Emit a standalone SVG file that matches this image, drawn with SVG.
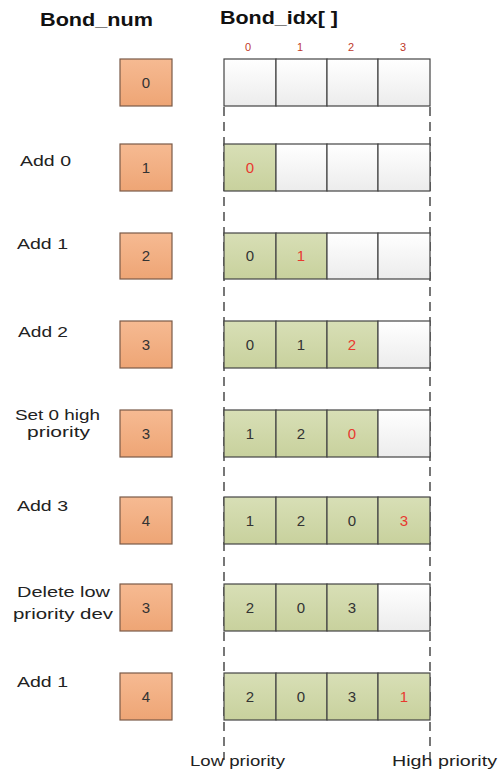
<svg xmlns="http://www.w3.org/2000/svg" width="501" height="769" viewBox="0 0 501 769">
<defs>
<linearGradient id="gEmpty" x1="0" y1="0" x2="0" y2="1"><stop offset="0" stop-color="#ffffff"/><stop offset="1" stop-color="#ececec"/></linearGradient>
<linearGradient id="gOrange" x1="0" y1="0" x2="0" y2="1"><stop offset="0" stop-color="#f6ba92"/><stop offset="1" stop-color="#eea575"/></linearGradient>
<linearGradient id="gGreen" x1="0" y1="0" x2="0" y2="1"><stop offset="0" stop-color="#d8dfb6"/><stop offset="1" stop-color="#c8d19d"/></linearGradient>
</defs>
<style>
text{font-family:"Liberation Sans",Arial,sans-serif;}
.title{font-size:18px;font-weight:bold;fill:#111;}
.idx{font-size:11px;fill:#c0392b;text-anchor:middle;}
.lbl{font-size:14px;fill:#222;}
.num{font-size:15px;fill:#333;text-anchor:middle;}
.red{font-size:15px;fill:#e8392f;text-anchor:middle;}
.box{fill:url(#gOrange);stroke:#7a5a48;stroke-width:1.2;}
.e{fill:url(#gEmpty);stroke:#444;stroke-width:1.2;}
.g{fill:url(#gGreen);stroke:#444;stroke-width:1.2;}
.dash{stroke:#555;stroke-width:1.6;stroke-dasharray:9 6;fill:none;}
.foot{font-size:14px;fill:#222;}
</style>
<rect width="501" height="769" fill="#ffffff"/>

<g id="headers">
<text class="title" x="40" y="26" textLength="113" lengthAdjust="spacingAndGlyphs">Bond_num</text>
<text class="title" x="220" y="24" textLength="118" lengthAdjust="spacingAndGlyphs">Bond_idx[ ]</text>
<text class="idx" x="248" y="51">0</text>
<text class="idx" x="300" y="51">1</text>
<text class="idx" x="351" y="51">2</text>
<text class="idx" x="403" y="51">3</text>
</g>

<g id="guides">
<line class="dash" x1="224" y1="107" x2="224" y2="760"/>
<line class="dash" x1="430" y1="107" x2="430" y2="760"/>
</g>

<g id="row0">
<rect class="box" x="120" y="59" width="52" height="47"/><text class="num" x="146" y="88">0</text>
<rect class="e" x="224" y="59" width="52" height="47"/><rect class="e" x="276" y="59" width="51" height="47"/><rect class="e" x="327" y="59" width="51" height="47"/><rect class="e" x="378" y="59" width="52" height="47"/>
</g>

<g id="row1">
<text class="lbl" x="20" y="166" textLength="51" lengthAdjust="spacingAndGlyphs">Add 0</text>
<rect class="box" x="120" y="144" width="52" height="47"/><text class="num" x="146" y="173">1</text>
<rect class="g" x="224" y="144" width="52" height="47"/><rect class="e" x="276" y="144" width="51" height="47"/><rect class="e" x="327" y="144" width="51" height="47"/><rect class="e" x="378" y="144" width="52" height="47"/>
<text class="red" x="250" y="173">0</text>
</g>

<g id="row2">
<text class="lbl" x="17" y="249" textLength="51" lengthAdjust="spacingAndGlyphs">Add 1</text>
<rect class="box" x="120" y="233" width="52" height="46"/><text class="num" x="146" y="261">2</text>
<rect class="g" x="224" y="233" width="52" height="46"/><rect class="g" x="276" y="233" width="51" height="46"/><rect class="e" x="327" y="233" width="51" height="46"/><rect class="e" x="378" y="233" width="52" height="46"/>
<text class="num" x="250" y="261">0</text><text class="red" x="301" y="261">1</text>
</g>

<g id="row3">
<text class="lbl" x="18" y="337" textLength="50" lengthAdjust="spacingAndGlyphs">Add 2</text>
<rect class="box" x="120" y="321" width="52" height="47"/><text class="num" x="146" y="350">3</text>
<rect class="g" x="224" y="321" width="52" height="47"/><rect class="g" x="276" y="321" width="51" height="47"/><rect class="g" x="327" y="321" width="51" height="47"/><rect class="e" x="378" y="321" width="52" height="47"/>
<text class="num" x="250" y="350">0</text><text class="num" x="301" y="350">1</text><text class="red" x="352" y="350">2</text>
</g>

<g id="row4">
<text class="lbl" x="15" y="420" textLength="85" lengthAdjust="spacingAndGlyphs">Set 0 high</text>
<text class="lbl" x="27" y="437" textLength="63" lengthAdjust="spacingAndGlyphs">priority</text>
<rect class="box" x="120" y="410" width="52" height="47"/><text class="num" x="146" y="439">3</text>
<rect class="g" x="224" y="410" width="52" height="47"/><rect class="g" x="276" y="410" width="51" height="47"/><rect class="g" x="327" y="410" width="51" height="47"/><rect class="e" x="378" y="410" width="52" height="47"/>
<text class="num" x="250" y="439">1</text><text class="num" x="301" y="439">2</text><text class="red" x="352" y="439">0</text>
</g>

<g id="row5">
<text class="lbl" x="17" y="511" textLength="51" lengthAdjust="spacingAndGlyphs">Add 3</text>
<rect class="box" x="120" y="497" width="52" height="47"/><text class="num" x="146" y="526">4</text>
<rect class="g" x="224" y="497" width="52" height="47"/><rect class="g" x="276" y="497" width="51" height="47"/><rect class="g" x="327" y="497" width="51" height="47"/><rect class="g" x="378" y="497" width="52" height="47"/>
<text class="num" x="250" y="526">1</text><text class="num" x="301" y="526">2</text><text class="num" x="352" y="526">0</text><text class="red" x="404" y="526">3</text>
</g>

<g id="row6">
<text class="lbl" x="17" y="597" textLength="93" lengthAdjust="spacingAndGlyphs">Delete low</text>
<text class="lbl" x="13" y="619" textLength="100" lengthAdjust="spacingAndGlyphs">priority dev</text>
<rect class="box" x="120" y="584" width="52" height="47"/><text class="num" x="146" y="613">3</text>
<rect class="g" x="224" y="584" width="52" height="47"/><rect class="g" x="276" y="584" width="51" height="47"/><rect class="g" x="327" y="584" width="51" height="47"/><rect class="e" x="378" y="584" width="52" height="47"/>
<text class="num" x="250" y="613">2</text><text class="num" x="301" y="613">0</text><text class="num" x="352" y="613">3</text>
</g>

<g id="row7">
<text class="lbl" x="17" y="687" textLength="51" lengthAdjust="spacingAndGlyphs">Add 1</text>
<rect class="box" x="120" y="673" width="52" height="47"/><text class="num" x="146" y="702">4</text>
<rect class="g" x="224" y="673" width="52" height="47"/><rect class="g" x="276" y="673" width="51" height="47"/><rect class="g" x="327" y="673" width="51" height="47"/><rect class="g" x="378" y="673" width="52" height="47"/>
<text class="num" x="250" y="702">2</text><text class="num" x="301" y="702">0</text><text class="num" x="352" y="702">3</text><text class="red" x="404" y="702">1</text>
</g>

<g id="footer">
<text class="foot" x="190" y="766" textLength="95" lengthAdjust="spacingAndGlyphs">Low priority</text>
<text class="foot" x="392" y="766" textLength="105" lengthAdjust="spacingAndGlyphs">High priority</text>
</g>
</svg>
